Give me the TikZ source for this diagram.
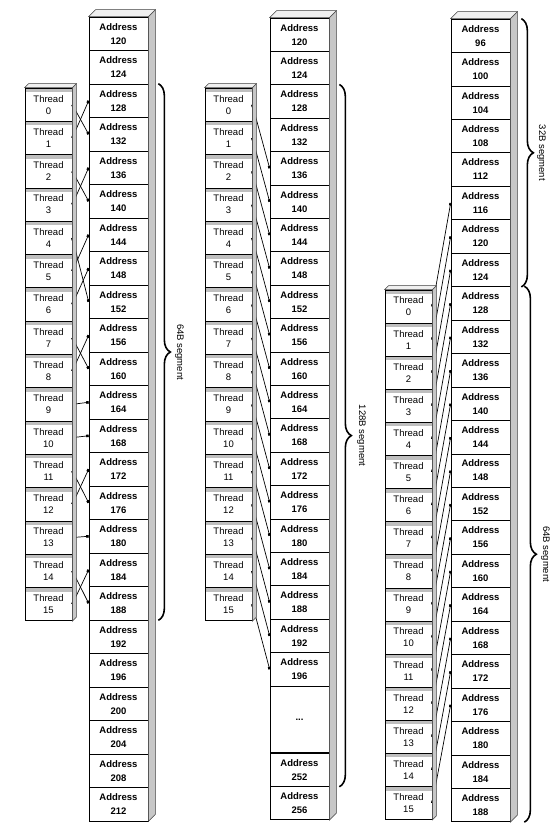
\documentclass[tikz,border=0pt]{standalone}
\usepackage{fontspec}
\setmainfont{Liberation Sans}
\usetikzlibrary{arrows.meta,decorations.pathreplacing,calc}

\begin{document}
\begin{tikzpicture}[x=1pt, y=-1pt,
  thread/.style={draw, line width=0.7pt, minimum width=47pt, minimum height=33.3pt, inner sep=0pt,
    align=center, font=\fontsize{9.5}{12}\selectfont,
    path picture={\fill[black!25] (path picture bounding box.north west) rectangle ([yshift=-4pt]path picture bounding box.north east);}},
  addr/.style={draw, line width=0.7pt, minimum width=59pt, minimum height=33.45pt, inner sep=0pt,
    align=center, font=\fontsize{9.5}{14}\selectfont\bfseries},
  side/.style={fill=black!22, draw=black!75, line width=0.5pt},
  lid/.style={fill=black!6, draw=black!75, line width=0.5pt},
  wire/.style={line width=0.7pt, {Square[length=2.5pt,width=2.5pt]}-{Square[length=2.5pt,width=2.5pt]}},
  seg/.style={decorate, decoration={brace, amplitude=12pt}, line width=1.6pt},
  seglabel/.style={rotate=-90, font=\fontsize{9.5}{11}\selectfont}]
\useasboundingbox (0,0) rectangle (552,824);
\foreach \k [evaluate=\k as \n using int(120+4*\k)] in {0,...,23}
  \node[addr] (La\k) at (118.5,{33.75+33.5*\k}) {Address\\\n};
\foreach \i in {0,...,15}
  \node[thread] (Lt\i) at (48.5,{104.65+33.3*\i}) {Thread\\\i};
\foreach \i/\j in {0/3,1/2,2/5,3/4,4/8,5/6,6/7,7/10,8/9,9/11,10/12,11/14,12/13,13/15,14/17,15/16}
  \draw[wire] (Lt\i.east) -- (La\j.west);
\fill[side] (La0.north east) -- ++(7,-7) -- ([shift={(7,-7)}]La23.south east) -- (La23.south east) -- cycle;
\fill[lid] (La0.north west) -- ++(7,-7) -- ([shift={(7,-7)}]La0.north east) -- (La0.north east) -- cycle;
\fill[side] (Lt0.north east) -- ++(4,-4) -- ([shift={(4,-4)}]Lt15.south east) -- (Lt15.south east) -- cycle;
\fill[lid] (Lt0.north west) -- ++(4,-4) -- ([shift={(4,-4)}]Lt0.north east) -- (Lt0.north east) -- cycle;
\draw[seg] ([xshift=10]La2.north east) -- ([xshift=10]La17.south east);
\node[seglabel] (Lseg) at ($(La2.north east)!0.5!(La17.south east)+(31,0)$) {64B segment};

\foreach \k [evaluate=\k as \n using int(120+4*\k)] in {0,...,19}
  \node[addr, minimum height=33.4pt] (Ma\k) at (299.5,{34.7+33.4*\k}) {Address\\\n};
\node[addr, minimum height=66.8pt] (Mdots) at (299.5,719.4) {...};
\node[addr, minimum height=33.4pt] (Mb0) at (299.5,769.7) {Address\\252};
\node[addr, minimum height=33.4pt] (Mb1) at (299.5,803.1) {Address\\256};
\foreach \i in {0,...,15}
  \node[thread] (Mt\i) at (228.5,{104.65+33.3*\i}) {Thread\\\i};
\foreach \i [evaluate=\i as \j using int(\i+4)] in {0,...,15}
  \draw[wire] (Mt\i.east) -- (Ma\j.west);
\fill[side] (Ma0.north east) -- ++(7,-7) -- ([shift={(7,-7)}]Mb1.south east) -- (Mb1.south east) -- cycle;
\fill[lid] (Ma0.north west) -- ++(7,-7) -- ([shift={(7,-7)}]Ma0.north east) -- (Ma0.north east) -- cycle;
\fill[side] (Mt0.north east) -- ++(4,-4) -- ([shift={(4,-4)}]Mt15.south east) -- (Mt15.south east) -- cycle;
\fill[lid] (Mt0.north west) -- ++(4,-4) -- ([shift={(4,-4)}]Mt0.north east) -- (Mt0.north east) -- cycle;
\draw[seg] ([xshift=10]Ma2.north east) -- ([xshift=10]Mb0.south east);
\node[seglabel] (Mseg) at ($(Ma2.north east)!0.5!(Mb0.south east)+(32,0)$) {128B segment};

\foreach \k [evaluate=\k as \n using int(96+4*\k)] in {0,...,23}
  \node[addr] (Ra\k) at (480.5,{35.725+33.45*\k}) {Address\\\n};
\foreach \i in {0,...,15}
  \node[thread, minimum height=33.1pt] (Rt\i) at (408.5,{306.55+33.1*\i}) {Thread\\\i};
\foreach \i [evaluate=\i as \j using int(\i+5)] in {0,...,15}
  \draw[wire] (Rt\i.east) -- (Ra\j.west);
\fill[side] (Ra0.north east) -- ++(7,-7) -- ([shift={(7,-7)}]Ra23.south east) -- (Ra23.south east) -- cycle;
\fill[lid] (Ra0.north west) -- ++(7,-7) -- ([shift={(7,-7)}]Ra0.north east) -- (Ra0.north east) -- cycle;
\fill[side] (Rt0.north east) -- ++(4,-4) -- ([shift={(4,-4)}]Rt15.south east) -- (Rt15.south east) -- cycle;
\fill[lid] (Rt0.north west) -- ++(4,-4) -- ([shift={(4,-4)}]Rt0.north east) -- (Rt0.north east) -- cycle;
\draw[seg] ([xshift=11]Ra0.north east) -- ([xshift=11]Ra7.south east);
\node[seglabel] (Rseg1) at ($(Ra0.north east)!0.5!(Ra7.south east)+(31,0)$) {32B segment};
\draw[seg] ([xshift=14]Ra8.north east) -- ([xshift=14]Ra23.south east);
\node[seglabel] (Rseg2) at ($(Ra8.north east)!0.5!(Ra23.south east)+(35,0)$) {64B segment};
\end{tikzpicture}
\end{document}
